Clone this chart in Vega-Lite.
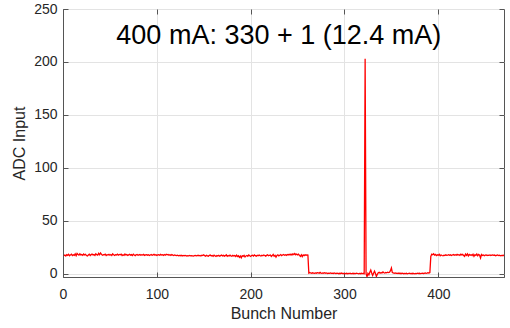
{
  "$schema": "https://vega.github.io/schema/vega-lite/v6.json",
  "autosize": "none",
  "width": 441,
  "height": 268,
  "padding": {"left": 63, "top": 9, "right": 6, "bottom": 51},
  "background": "white",
  "config": {
    "view": {"stroke": "#555555", "strokeWidth": 1},
    "axis": {
      "labelFont": "Liberation Sans",
      "titleFont": "Liberation Sans",
      "labelFontSize": 14,
      "titleFontSize": 16,
      "labelColor": "#262626",
      "titleColor": "#262626",
      "titleFontWeight": "normal",
      "domainColor": "#555555",
      "tickColor": "#555555",
      "gridColor": "#e3e3e3",
      "tickSize": -5
    }
  },
  "data": {"values": [
{"b":1,"v":17.2},{"b":2,"v":17.8},{"b":3,"v":16.9},{"b":4,"v":18.1},{"b":5,"v":17.5},{"b":6,"v":18.4},{"b":7,"v":17.0},{"b":8,"v":17.9},{"b":9,"v":18.6},{"b":10,"v":17.3},
{"b":11,"v":18.0},{"b":12,"v":17.4},{"b":13,"v":18.8},{"b":14,"v":17.1},{"b":15,"v":19.2},{"b":16,"v":18.3},{"b":17,"v":17.6},{"b":18,"v":18.9},{"b":19,"v":17.8},{"b":20,"v":18.2},
{"b":21,"v":17.5},{"b":22,"v":18.7},{"b":23,"v":17.9},{"b":24,"v":18.4},{"b":25,"v":17.2},{"b":26,"v":16.8},{"b":27,"v":17.7},{"b":28,"v":18.5},{"b":29,"v":17.3},{"b":30,"v":18.1},
{"b":31,"v":18.6},{"b":32,"v":17.8},{"b":33,"v":18.2},{"b":34,"v":17.4},{"b":35,"v":18.9},{"b":36,"v":18.1},{"b":37,"v":17.6},{"b":38,"v":19.4},{"b":39,"v":18.0},{"b":40,"v":19.6},
{"b":41,"v":18.3},{"b":42,"v":17.5},{"b":43,"v":18.1},{"b":44,"v":17.9},{"b":45,"v":18.6},{"b":46,"v":17.2},{"b":47,"v":18.0},{"b":48,"v":17.7},{"b":49,"v":18.4},{"b":50,"v":17.6},
{"b":51,"v":18.2},{"b":52,"v":17.4},{"b":53,"v":18.8},{"b":54,"v":17.9},{"b":55,"v":17.3},{"b":56,"v":18.1},{"b":57,"v":17.8},{"b":58,"v":18.5},{"b":59,"v":17.6},{"b":60,"v":18.3},
{"b":61,"v":17.9},{"b":62,"v":18.6},{"b":63,"v":17.2},{"b":64,"v":18.0},{"b":65,"v":17.5},{"b":66,"v":18.7},{"b":67,"v":17.8},{"b":68,"v":18.2},{"b":69,"v":17.4},{"b":70,"v":17.9},
{"b":71,"v":18.4},{"b":72,"v":17.6},{"b":73,"v":18.1},{"b":74,"v":17.3},{"b":75,"v":18.5},{"b":76,"v":17.8},{"b":77,"v":17.2},{"b":78,"v":17.9},{"b":79,"v":18.3},{"b":80,"v":17.6},
{"b":81,"v":17.9},{"b":82,"v":18.2},{"b":83,"v":17.5},{"b":84,"v":18.0},{"b":85,"v":17.7},{"b":86,"v":18.3},{"b":87,"v":17.4},{"b":88,"v":17.8},{"b":89,"v":18.1},{"b":90,"v":17.6},
{"b":91,"v":18.0},{"b":92,"v":17.3},{"b":93,"v":17.8},{"b":94,"v":18.2},{"b":95,"v":17.5},{"b":96,"v":17.9},{"b":97,"v":18.4},{"b":98,"v":17.6},{"b":99,"v":18.0},{"b":100,"v":17.4},
{"b":101,"v":17.8},{"b":102,"v":18.1},{"b":103,"v":17.5},{"b":104,"v":18.3},{"b":105,"v":17.7},{"b":106,"v":18.0},{"b":107,"v":17.4},{"b":108,"v":18.2},{"b":109,"v":17.6},{"b":110,"v":18.5},
{"b":111,"v":17.9},{"b":112,"v":18.3},{"b":113,"v":17.6},{"b":114,"v":18.0},{"b":115,"v":17.4},{"b":116,"v":18.2},{"b":117,"v":17.7},{"b":118,"v":17.3},{"b":119,"v":17.8},{"b":120,"v":17.5},
{"b":121,"v":17.2},{"b":122,"v":17.6},{"b":123,"v":17.0},{"b":124,"v":17.4},{"b":125,"v":17.1},{"b":126,"v":17.5},{"b":127,"v":16.9},{"b":128,"v":17.3},{"b":129,"v":17.0},{"b":130,"v":17.4},
{"b":131,"v":17.1},{"b":132,"v":16.8},{"b":133,"v":17.2},{"b":134,"v":17.0},{"b":135,"v":17.3},{"b":136,"v":16.9},{"b":137,"v":17.2},{"b":138,"v":17.0},{"b":139,"v":16.8},{"b":140,"v":17.1},
{"b":141,"v":17.3},{"b":142,"v":16.9},{"b":143,"v":17.2},{"b":144,"v":17.5},{"b":145,"v":17.0},{"b":146,"v":17.4},{"b":147,"v":16.8},{"b":148,"v":17.6},{"b":149,"v":17.2},{"b":150,"v":17.9},
{"b":151,"v":17.1},{"b":152,"v":16.7},{"b":153,"v":17.5},{"b":154,"v":17.0},{"b":155,"v":16.6},{"b":156,"v":17.4},{"b":157,"v":17.8},{"b":158,"v":16.9},{"b":159,"v":17.3},{"b":160,"v":16.5},
{"b":161,"v":17.6},{"b":162,"v":17.0},{"b":163,"v":16.4},{"b":164,"v":17.3},{"b":165,"v":16.8},{"b":166,"v":17.5},{"b":167,"v":16.6},{"b":168,"v":17.2},{"b":169,"v":17.8},{"b":170,"v":16.9},
{"b":171,"v":17.4},{"b":172,"v":16.7},{"b":173,"v":17.1},{"b":174,"v":17.9},{"b":175,"v":16.5},{"b":176,"v":17.3},{"b":177,"v":16.8},{"b":178,"v":17.6},{"b":179,"v":17.0},{"b":180,"v":16.6},
{"b":181,"v":17.5},{"b":182,"v":16.9},{"b":183,"v":17.2},{"b":184,"v":16.4},{"b":185,"v":17.7},{"b":186,"v":16.3},{"b":187,"v":17.0},{"b":188,"v":15.6},{"b":189,"v":16.8},{"b":190,"v":15.2},
{"b":191,"v":17.1},{"b":192,"v":16.5},{"b":193,"v":17.4},{"b":194,"v":15.9},{"b":195,"v":16.9},{"b":196,"v":17.3},{"b":197,"v":16.6},{"b":198,"v":17.8},{"b":199,"v":17.0},{"b":200,"v":16.4},
{"b":201,"v":17.2},{"b":202,"v":17.6},{"b":203,"v":16.8},{"b":204,"v":17.9},{"b":205,"v":17.1},{"b":206,"v":16.7},{"b":207,"v":17.5},{"b":208,"v":17.0},{"b":209,"v":17.8},{"b":210,"v":17.2},
{"b":211,"v":16.9},{"b":212,"v":17.6},{"b":213,"v":17.1},{"b":214,"v":17.8},{"b":215,"v":17.3},{"b":216,"v":16.7},{"b":217,"v":17.4},{"b":218,"v":17.9},{"b":219,"v":17.0},{"b":220,"v":17.5},
{"b":221,"v":17.8},{"b":222,"v":16.4},{"b":223,"v":17.2},{"b":224,"v":18.3},{"b":225,"v":16.6},{"b":226,"v":17.5},{"b":227,"v":15.8},{"b":228,"v":17.3},{"b":229,"v":17.9},{"b":230,"v":16.9},
{"b":231,"v":17.6},{"b":232,"v":18.1},{"b":233,"v":17.2},{"b":234,"v":17.8},{"b":235,"v":18.3},{"b":236,"v":17.5},{"b":237,"v":18.0},{"b":238,"v":17.4},{"b":239,"v":18.2},{"b":240,"v":17.7},
{"b":241,"v":18.4},{"b":242,"v":17.9},{"b":243,"v":18.6},{"b":244,"v":17.8},{"b":245,"v":18.9},{"b":246,"v":18.2},{"b":247,"v":19.1},{"b":248,"v":18.0},{"b":249,"v":18.7},{"b":250,"v":17.9},
{"b":251,"v":18.5},{"b":252,"v":17.4},{"b":253,"v":16.5},{"b":254,"v":17.9},{"b":255,"v":16.2},{"b":256,"v":17.8},{"b":257,"v":17.2},{"b":258,"v":18.0},{"b":259,"v":17.6},{"b":260,"v":17.9},
{"b":261,"v":17.7},
{"b":262,"v":0.6},{"b":263,"v":1.2},{"b":264,"v":0.8},{"b":265,"v":0.5},{"b":266,"v":1.0},{"b":267,"v":0.7},{"b":268,"v":0.4},{"b":269,"v":0.9},{"b":270,"v":0.6},{"b":271,"v":1.1},
{"b":272,"v":0.8},{"b":273,"v":0.5},{"b":274,"v":1.3},{"b":275,"v":0.7},{"b":276,"v":0.4},{"b":277,"v":0.9},{"b":278,"v":0.6},{"b":279,"v":1.0},{"b":280,"v":0.5},{"b":281,"v":0.8},
{"b":282,"v":0.3},{"b":283,"v":0.7},{"b":284,"v":0.5},{"b":285,"v":0.9},{"b":286,"v":0.4},{"b":287,"v":0.6},{"b":288,"v":0.2},{"b":289,"v":0.8},{"b":290,"v":0.5},{"b":291,"v":0.3},
{"b":292,"v":0.6},{"b":293,"v":0.4},{"b":294,"v":0.1},{"b":295,"v":0.5},{"b":296,"v":0.3},{"b":297,"v":0.7},{"b":298,"v":0.2},{"b":299,"v":0.4},{"b":300,"v":0.0},{"b":301,"v":0.3},
{"b":302,"v":0.5},{"b":303,"v":0.1},{"b":304,"v":0.4},{"b":305,"v":0.2},{"b":306,"v":0.6},{"b":307,"v":0.0},{"b":308,"v":0.3},{"b":309,"v":0.5},{"b":310,"v":0.1},{"b":311,"v":0.4},
{"b":312,"v":0.2},{"b":313,"v":0.6},{"b":314,"v":0.3},{"b":315,"v":0.0},{"b":316,"v":0.4},{"b":317,"v":0.1},{"b":318,"v":0.5},{"b":319,"v":0.2},{"b":320,"v":0.3},{"b":321,"v":0.1},
{"b":322,"v":203},{"b":323,"v":0.2},{"b":324,"v":-2.8},{"b":325,"v":0.5},{"b":326,"v":-1.0},{"b":327,"v":1.5},{"b":328,"v":3.5},{"b":329,"v":0.8},{"b":330,"v":-1.5},
{"b":331,"v":0.6},{"b":332,"v":2.5},{"b":333,"v":0.4},{"b":334,"v":-2.5},{"b":335,"v":-0.5},{"b":336,"v":1.0},{"b":337,"v":1.5},{"b":338,"v":0.6},{"b":339,"v":1.2},{"b":340,"v":0.8},
{"b":341,"v":1.8},{"b":342,"v":1.0},{"b":343,"v":0.7},{"b":344,"v":1.3},{"b":345,"v":0.9},{"b":346,"v":1.5},{"b":347,"v":1.1},{"b":348,"v":1.4},{"b":349,"v":3.0},{"b":350,"v":5.5},
{"b":351,"v":1.2},{"b":352,"v":0.8},{"b":353,"v":0.5},{"b":354,"v":0.9},{"b":355,"v":0.4},{"b":356,"v":0.6},{"b":357,"v":0.3},{"b":358,"v":0.7},{"b":359,"v":0.2},{"b":360,"v":0.5},
{"b":361,"v":0.3},{"b":362,"v":0.6},{"b":363,"v":0.1},{"b":364,"v":0.4},{"b":365,"v":0.2},{"b":366,"v":0.5},{"b":367,"v":0.0},{"b":368,"v":0.3},{"b":369,"v":0.6},{"b":370,"v":0.2},
{"b":371,"v":0.4},{"b":372,"v":0.1},{"b":373,"v":0.5},{"b":374,"v":0.3},{"b":375,"v":0.0},{"b":376,"v":0.4},{"b":377,"v":0.2},{"b":378,"v":0.6},{"b":379,"v":0.3},{"b":380,"v":0.5},
{"b":381,"v":0.2},{"b":382,"v":0.4},{"b":383,"v":0.7},{"b":384,"v":0.3},{"b":385,"v":0.5},{"b":386,"v":0.9},{"b":387,"v":0.4},{"b":388,"v":0.6},{"b":389,"v":1.0},{"b":390,"v":0.7},{"b":391,"v":1.2},
{"b":392,"v":16.5},{"b":393,"v":18.5},{"b":394,"v":18.0},
{"b":395,"v":18.9},{"b":396,"v":17.6},{"b":397,"v":18.3},{"b":398,"v":17.2},{"b":399,"v":18.0},{"b":400,"v":17.5},{"b":401,"v":18.4},{"b":402,"v":17.1},{"b":403,"v":17.8},{"b":404,"v":17.3},
{"b":405,"v":17.0},{"b":406,"v":17.6},{"b":407,"v":17.2},{"b":408,"v":17.9},{"b":409,"v":17.4},{"b":410,"v":17.7},{"b":411,"v":18.1},{"b":412,"v":17.5},{"b":413,"v":17.9},{"b":414,"v":17.3},
{"b":415,"v":17.8},{"b":416,"v":18.2},{"b":417,"v":17.6},{"b":418,"v":18.0},{"b":419,"v":17.5},{"b":420,"v":18.3},{"b":421,"v":17.7},{"b":422,"v":18.1},{"b":423,"v":17.4},{"b":424,"v":18.6},
{"b":425,"v":17.9},{"b":426,"v":18.4},{"b":427,"v":17.2},{"b":428,"v":16.5},{"b":429,"v":18.6},{"b":430,"v":17.5},{"b":431,"v":18.8},{"b":432,"v":16.9},{"b":433,"v":18.2},{"b":434,"v":17.5},
{"b":435,"v":18.0},{"b":436,"v":17.3},{"b":437,"v":18.5},{"b":438,"v":16.6},{"b":439,"v":18.1},{"b":440,"v":17.4},{"b":441,"v":18.7},{"b":442,"v":17.0},{"b":443,"v":18.3},{"b":444,"v":17.6},
{"b":445,"v":15.0},{"b":446,"v":18.2},{"b":447,"v":17.4},{"b":448,"v":17.8},{"b":449,"v":17.1},{"b":450,"v":17.6},{"b":451,"v":17.9},{"b":452,"v":17.3},{"b":453,"v":17.7},{"b":454,"v":17.5},
{"b":455,"v":17.8},{"b":456,"v":17.2},{"b":457,"v":17.6},{"b":458,"v":17.9},{"b":459,"v":17.4},{"b":460,"v":17.7},{"b":461,"v":17.1},{"b":462,"v":17.5},{"b":463,"v":17.8},{"b":464,"v":17.3},
{"b":465,"v":17.6},{"b":466,"v":17.0},{"b":467,"v":17.4},{"b":468,"v":17.2},{"b":469,"v":17.5},{"b":470,"v":17.3}
  ]},
  "layer": [
    {
      "mark": {"type": "line", "color": "#ff0000", "strokeWidth": 1.3, "clip": true},
      "encoding": {
        "x": {
          "field": "b", "type": "quantitative",
          "scale": {"domain": [0, 470], "nice": false, "zero": false},
          "axis": {"orient": "bottom", "values": [0, 100, 200, 300, 400], "title": "Bunch Number", "grid": true, "labelPadding": 15, "titlePadding": 4, "labelFlush": false}
        },
        "y": {
          "field": "v", "type": "quantitative",
          "scale": {"domain": [-3, 250], "nice": false, "zero": false},
          "axis": {"orient": "left", "values": [0, 50, 100, 150, 200, 250], "title": "ADC Input", "grid": true, "labelPadding": 11, "titlePadding": 6, "labelFlush": false}
        }
      }
    },
    {
      "data": {"values": [{"label": "400 mA: 330 + 1 (12.4 mA)", "tx": 230, "ty": 217}]},
      "mark": {"type": "text", "font": "Liberation Sans", "fontSize": 27, "color": "#000000", "align": "center", "baseline": "alphabetic"},
      "encoding": {
        "text": {"field": "label"},
        "x": {"field": "tx", "type": "quantitative", "axis": {"orient": "top", "values": [0, 100, 200, 300, 400], "labels": false, "title": null, "grid": false, "domain": false}},
        "y": {"field": "ty", "type": "quantitative", "axis": {"orient": "right", "values": [0, 50, 100, 150, 200, 250], "labels": false, "title": null, "grid": false, "domain": false}}
      }
    }
  ],
  "resolve": {"axis": {"x": "independent", "y": "independent"}}
}
